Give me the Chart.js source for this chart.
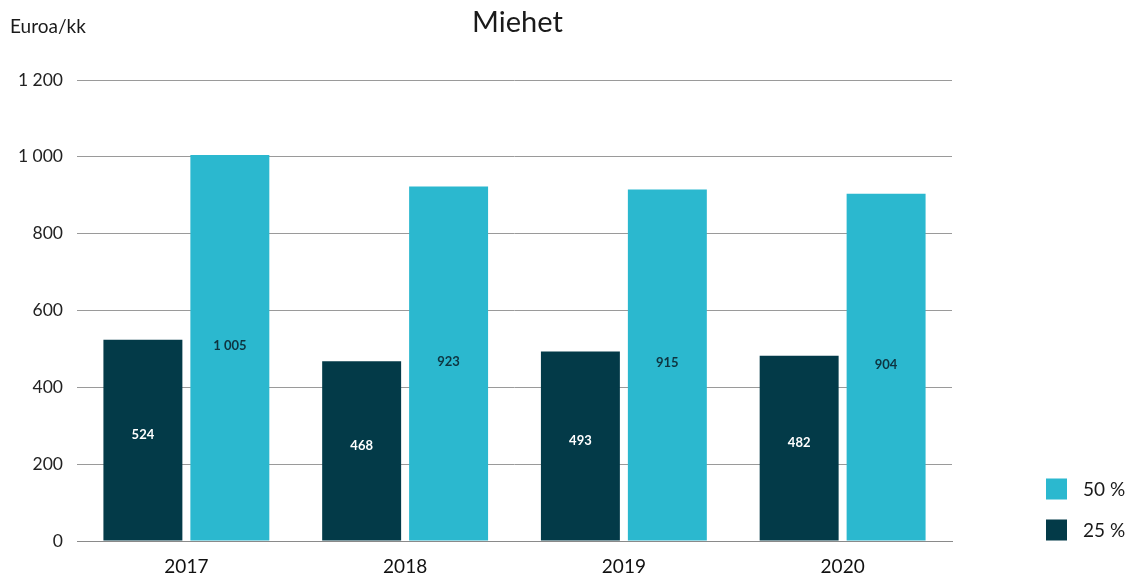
<!DOCTYPE html>
<html>
<head>
<meta charset="utf-8">
<script src="https://cdn.jsdelivr.net/npm/chart.js@4/dist/chart.umd.min.js"></script>
<style>
html,body{margin:0;padding:0;background:#fff;}
#wrap{position:relative;width:1139px;height:580px;}
canvas{display:block;}
</style>
</head>
<body>
<div id="wrap"><canvas id="c" width="1139" height="580"></canvas></div>
<script>
const categories = ['2017', '2018', '2019', '2020'];
const series25 = [524, 468, 493, 482];
const series50 = [1005, 923, 915, 904];
const seriesNames = ['25 %', '50 %'];
const yTicks = [0, 200, 400, 600, 800, 1000, 1200];
const titleText = 'Miehet';
const unitText = 'Euroa/kk';

const DARK = '#033a48';
const LIGHT = '#2bb8cf';
const FONT = 'Lato, "Open Sans", sans-serif';

function fmt(v){ return String(v).replace(/\B(?=(\d{3})+(?!\d))/g, ' '); }

const overlay = {
  id: 'overlay',
  afterDatasetsDraw(chart){
    const ctx = chart.ctx;
    ctx.save();
    ctx.textAlign = 'center';
    ctx.textBaseline = 'middle';
    ctx.font = '700 13px ' + FONT;
    chart.data.datasets.forEach((ds, di) => {
      const meta = chart.getDatasetMeta(di);
      meta.data.forEach((el, i) => {
        const mid = (el.y + el.base) / 2 - (di === 0 ? 5 : 2);
        ctx.fillStyle = di === 0 ? '#ffffff' : '#0e3440';
        ctx.fillText(fmt(ds.data[i]), el.x, mid);
      });
    });
    // title
    const ca = chart.chartArea;
    ctx.fillStyle = '#1a1a1a';
    ctx.font = '400 29px ' + FONT;
    ctx.fillText(titleText, (ca.left + ca.right) / 2 + 3, 23);
    ctx.textAlign = 'left';
    ctx.font = '400 19px ' + FONT;
    ctx.fillText(unitText, 10, 27);
    // legend (reversed order)
    const items = [
      {name: chart.data.datasets[1].label, color: chart.data.datasets[1].backgroundColor, y: 489},
      {name: chart.data.datasets[0].label, color: chart.data.datasets[0].backgroundColor, y: 530}
    ];
    items.forEach(it => {
      ctx.fillStyle = it.color;
      ctx.fillRect(1046, it.y - 10.5, 21, 21);
      ctx.fillStyle = '#1a1a1a';
      ctx.font = '400 19px ' + FONT;
      ctx.fillText(it.name, 1083, it.y + 1);
    });
    ctx.restore();
  }
};

new Chart(document.getElementById('c'), {
  type: 'bar',
  data: {
    labels: categories,
    datasets: [
      {label: seriesNames[0], data: series25, backgroundColor: DARK},
      {label: seriesNames[1], data: series50, backgroundColor: LIGHT}
    ]
  },
  options: {
    responsive: false,
    animation: false,
    devicePixelRatio: 1,
    layout: {padding: {left: 0, right: 187, top: 80, bottom: 0}},
    datasets: {bar: {categoryPercentage: 0.795, barPercentage: 0.908}},
    plugins: {legend: {display: false}, tooltip: {enabled: false}, title: {display: false}},
    scales: {
      x: {
        grid: {display: false, drawTicks: false},
        border: {display: true, color: '#8a8a8a', width: 1},
        ticks: {color: '#111', font: {family: FONT, size: 19}, padding: 14},
        afterFit(s){ s.height = 39; }
      },
      y: {
        min: 0, max: 1200,
        afterBuildTicks(s){ s.ticks = yTicks.map(v => ({value: v})); },
        grid: {color: '#9a9a9a', lineWidth: 1, drawTicks: false},
        border: {display: false},
        ticks: {color: '#222', font: {family: FONT, size: 17.5}, padding: 14, callback: v => fmt(v)},
        afterFit(s){ s.width = 77; }
      }
    }
  },
  plugins: [overlay]
});
</script>
</body>
</html>
